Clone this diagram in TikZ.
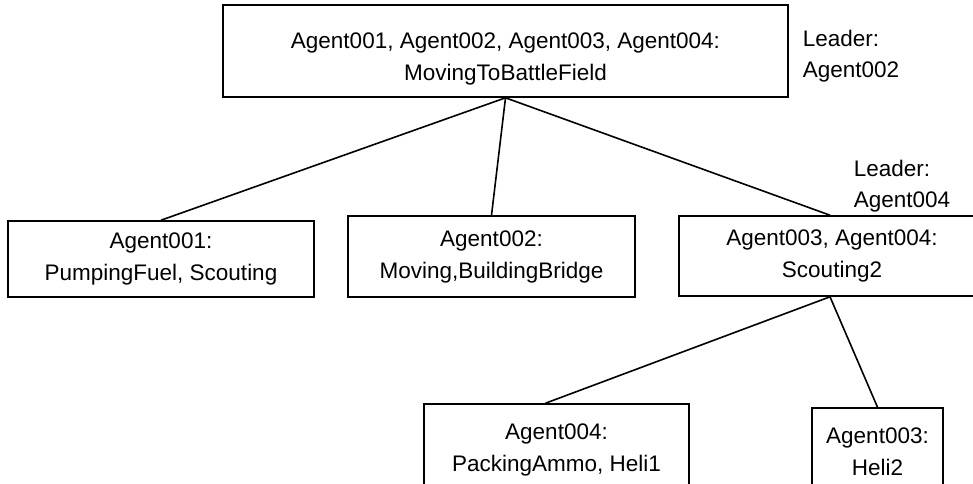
\documentclass[tikz,border=0pt]{standalone}
\usepackage{fontspec}
\setmainfont{Liberation Sans}
\usepackage{tikz}
\usepackage{xcolor}

\begin{document}
\begin{tikzpicture}[x=1pt, y=-1pt, line width=1.6pt,
    task/.style={draw, align=center, inner sep=0pt,
                 font=\fontsize{22.5}{32}\selectfont},
    leader/.style={align=left, anchor=base west, inner sep=0pt,
                   font=\fontsize{22.5}{31}\selectfont}]
\useasboundingbox (0,0) rectangle (973,483);
\clip (0,0) rectangle (973,483);
\node [task, minimum width=565pt, minimum height=92pt, text height=64pt, text depth=6pt]
       (all) at (505.5,51) {Agent001, Agent002, Agent003, Agent004:\\MovingToBattleField};
\node [task, minimum width=306pt, minimum height=76pt]
       (fuel) at (161,259) {Agent001:\\PumpingFuel, Scouting};
\node [task, minimum width=287pt, minimum height=81pt]
       (bridge) at (491.5,256.5) {Agent002:\\Moving,BuildingBridge};
\node [task, minimum width=306pt, minimum height=80pt]
       (scout) at (832,256) {Agent003, Agent004:\\Scouting2};
\node [task, minimum width=265pt, minimum height=92pt]
       (ammo) at (556.5,450) {Agent004:\\PackingAmmo, Heli1};
\node [task, minimum width=131pt, minimum height=88pt]
       (heli) at (877.5,452) {Agent003:\\Heli2};
\node [leader] (lead1) at (802,77) {Leader:\\Agent002};
\node [leader] (lead2) at (853,207) {Leader:\\Agent004};
\draw (all.south) -- (fuel.north);
\draw (all.south) -- (bridge.north);
\draw (all.south) -- ([xshift=-2pt]scout.north);
\draw ([xshift=-2pt]scout.south) -- ([xshift=-11pt]ammo.north);
\draw ([xshift=-2pt]scout.south) -- (heli.north);
\end{tikzpicture}
\end{document}
